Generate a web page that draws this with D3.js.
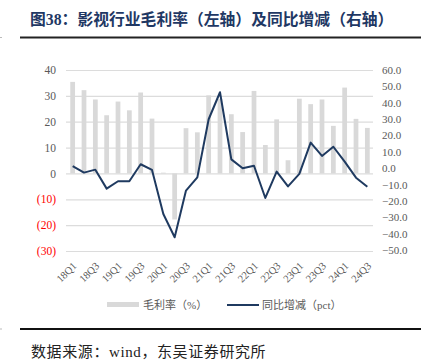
<!DOCTYPE html>
<html><head><meta charset="utf-8">
<script src="https://cdn.jsdelivr.net/npm/d3@7"></script>
<style>
html,body{margin:0;padding:0;background:#fff;}
svg{display:block;}
</style></head>
<body>
<svg id="c" width="429" height="364"></svg>
<script>
const quarters = ["18Q1","18Q2","18Q3","18Q4","19Q1","19Q2","19Q3","19Q4","20Q1","20Q2","20Q3","20Q4","21Q1","21Q2","21Q3","21Q4","22Q1","22Q2","22Q3","22Q4","23Q1","23Q2","23Q3","23Q4","24Q1","24Q2","24Q3"];
const grossMargin = [35.4,32.2,28.6,22.5,27.8,24.4,31.3,21.2,0.3,-17.8,17.5,15.9,30.2,28.8,22.9,16.0,31.9,11.0,20.9,5.1,28.9,26.8,28.6,18.4,33.2,21.1,17.6];
const yoyChange = [1.3,-2.7,-0.9,-12.5,-8.0,-8.0,2.4,-1.1,-28.0,-42.2,-13.7,-5.6,29.9,46.4,5.4,0.0,1.5,-18.2,-2.1,-11.1,-3.5,15.6,7.5,13.1,4.0,-5.8,-11.3];
const leftTicks = [40,30,20,10,0,-10,-20,-30];
const rightTicks = [60,50,40,30,20,10,0,-10,-20,-30,-40,-50];
const xTickLabels = ["18Q1","18Q3","19Q1","19Q3","20Q1","20Q3","21Q1","21Q3","22Q1","22Q3","23Q1","23Q3","24Q1","24Q3"];

const svg = d3.select("#c");
const serif = "'Liberation Serif','Times New Roman','Noto Sans CJK SC',serif";
const cjk = "'Liberation Serif','Noto Sans CJK SC',sans-serif";

// title
svg.append("text").attr("x",30).attr("y",25)
  .attr("font-family",cjk).attr("font-weight","bold").attr("font-size",15.8)
  .attr("fill","#1f3864").text("图38：影视行业毛利率（左轴）及同比增减（右轴）");
svg.append("line").attr("x1",20).attr("x2",421).attr("y1",37.5).attr("y2",37.5)
  .attr("stroke","#222").attr("stroke-width",2);
svg.append("line").attr("x1",20).attr("x2",421).attr("y1",329).attr("y2",329)
  .attr("stroke","#111").attr("stroke-width",2);
svg.append("line").attr("x1",0).attr("x2",2).attr("y1",37.5).attr("y2",37.5).attr("stroke","#bbb");
svg.append("line").attr("x1",0).attr("x2",2).attr("y1",329).attr("y2",329).attr("stroke","#bbb");

// footer
svg.append("text").attr("x",31).attr("y",357)
  .attr("font-family",cjk).attr("font-size",15).attr("letter-spacing",0.6).attr("fill","#222")
  .text("数据来源：wind，东吴证券研究所");

const x = d3.scaleBand().domain(quarters).range([67,373]).paddingInner(0.58).paddingOuter(0.29);
const yL = d3.scaleLinear().domain([-30,40]).range([251,70]);
const yR = d3.scaleLinear().domain([-50,60]).range([250,70]);

// gridlines
svg.append("g").selectAll("line").data(leftTicks).join("line")
  .attr("x1",66).attr("x2",373)
  .attr("y1",d=>yL(d)+0.5).attr("y2",d=>yL(d)+0.5)
  .attr("stroke","#dcdcdc").attr("stroke-width",1.2);

// left axis
const axL = d3.axisLeft(yL).tickValues(leftTicks).tickSize(0).tickPadding(0)
  .tickFormat(d=> d<0 ? "("+Math.abs(d)+")" : d);
const gL = svg.append("g").attr("transform","translate(56,0)").call(axL);
gL.select(".domain").remove();
gL.selectAll("text").attr("font-family",serif).attr("font-size",11.5)
  .attr("fill",d=> d<0 ? "#ff0000" : "#595959");

// right axis
const axR = d3.axisRight(yR).tickValues(rightTicks).tickSize(0).tickPadding(0)
  .tickFormat(d3.format(".1f"));
const gR = svg.append("g").attr("transform","translate(382,0)").call(axR);
gR.select(".domain").remove();
gR.selectAll("text").attr("font-family",serif).attr("font-size",11).attr("fill","#595959");

// bars
svg.append("g").selectAll("rect").data(quarters).join("rect")
  .attr("x",d=>x(d)).attr("width",x.bandwidth())
  .attr("y",(d,i)=>yL(Math.max(0,grossMargin[i])))
  .attr("height",(d,i)=>Math.abs(yL(grossMargin[i])-yL(0)))
  .attr("fill","#d9d9d9");

// line
const line = d3.line().x((d,i)=>x(quarters[i])+x.bandwidth()/2).y(d=>yR(d));
svg.append("path").datum(yoyChange).attr("d",line)
  .attr("fill","none").attr("stroke","#1f3a60").attr("stroke-width",2).attr("stroke-linejoin","round");

// x labels
const axX = d3.axisBottom(x).tickValues(xTickLabels).tickSize(0).tickPadding(0);
const gX = svg.append("g").attr("transform","translate(0,262)").call(axX);
gX.select(".domain").remove();
gX.selectAll("text").attr("font-family",serif).attr("font-size",10.5).attr("fill","#595959")
  .attr("text-anchor","end").attr("dy","0.35em")
  .attr("transform","translate(2,2) rotate(-45)");

// legend
const lg = svg.append("g");
lg.append("rect").attr("x",107).attr("y",302).attr("width",32).attr("height",5).attr("fill","#d9d9d9");
lg.append("text").attr("x",143).attr("y",309).attr("font-family",cjk).attr("font-size",11)
  .attr("fill","#595959").text("毛利率（%）");
lg.append("line").attr("x1",227).attr("x2",259).attr("y1",305).attr("y2",305)
  .attr("stroke","#1f3a60").attr("stroke-width",2);
lg.append("text").attr("x",262).attr("y",309).attr("font-family",cjk).attr("font-size",11)
  .attr("fill","#595959").text("同比增减（pct）");
</script>
</body></html>
